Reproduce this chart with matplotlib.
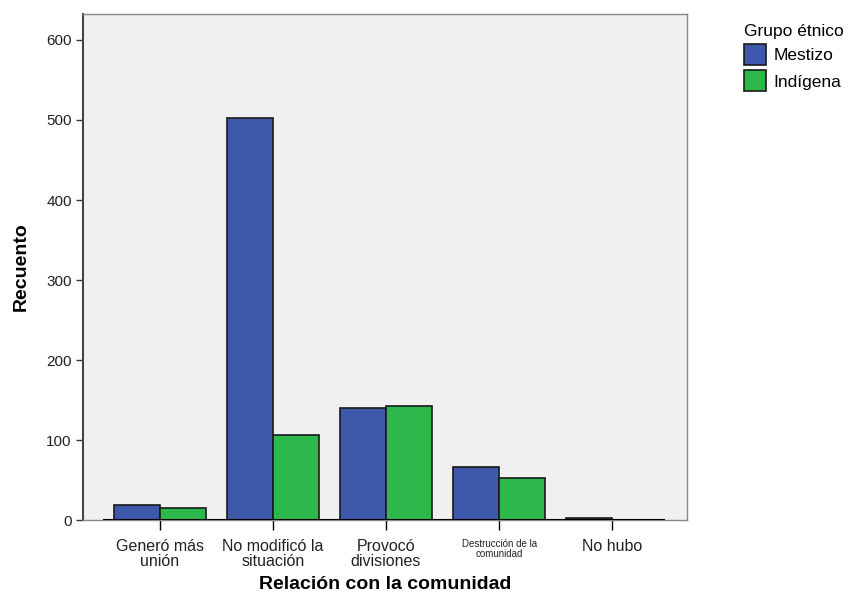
import numpy as np
import matplotlib.pyplot as plt

plt.rcParams['font.family'] = ['Liberation Sans', 'DejaVu Sans']

categories = ['Generó más\nunión', 'No modificó la\nsituación', 'Provocó\ndivisiones',
              'Destrucción de la\ncomunidad', 'No hubo']
mestizo = [19, 502, 140, 66, 2]
indigena = [15, 106, 143, 52, 0]
series_names = ['Mestizo', 'Indígena']
colors = ['#3E58AC', '#2DB84B']

fig = plt.figure(figsize=(8.51, 5.98), dpi=100)
ax = fig.add_axes([0.0975, 0.1304, 0.7095, 0.8462])
ax.set_facecolor('#F0F0F0')

x = np.arange(len(categories))
w = 0.41
ax.bar(x - w / 2, mestizo, w, color=colors[0], edgecolor='#1a1a1a', linewidth=1.2,
       label=series_names[0], zorder=3)
ax.bar(x + w / 2, indigena, w, color=colors[1], edgecolor='#1a1a1a', linewidth=1.2,
       label=series_names[1], zorder=3)
ax.hlines(0, -0.5, 4.47, color='black', linewidth=1.5, zorder=4)

ax.set_xlim(-0.68, 4.66)
ax.set_ylim(0, 632.5)
ax.set_yticks([0, 100, 200, 300, 400, 500, 600])
ax.set_xticks(x)
ax.set_xticklabels(categories, fontsize=11.5, linespacing=1.0, color='#222222')
for lbl in ax.get_xticklabels():
    if lbl.get_text().startswith('Destrucción'):
        lbl.set_fontsize(7)
ax.tick_params(axis='x', length=7, width=1, color='black', pad=7)
ax.tick_params(axis='y', length=5, width=1, color='#333333', labelsize=11,
               labelcolor='#222222', pad=3)

for side in ['top', 'right', 'bottom']:
    ax.spines[side].set_color('#888888')
    ax.spines[side].set_linewidth(1)
ax.spines['left'].set_color('#444444')
ax.spines['left'].set_linewidth(1.5)

ax.set_ylabel('Recuento', fontsize=14, fontweight='bold', labelpad=12)
ax.set_xlabel('Relación con la comunidad', fontsize=14, fontweight='bold', labelpad=5)

leg = fig.legend(loc='upper left', bbox_to_anchor=(0.866, 0.972), title='Grupo étnico',
                 frameon=False, fontsize=12.5, title_fontsize=12.5, handlelength=1.3,
                 handleheight=1.5, handletextpad=0.4, borderaxespad=0, labelspacing=0.3)
leg._legend_box.align = 'left'
for p in leg.get_patches():
    p.set_edgecolor('#1a1a1a')
    p.set_linewidth(1.2)

fig.savefig('out.png', dpi=100)
